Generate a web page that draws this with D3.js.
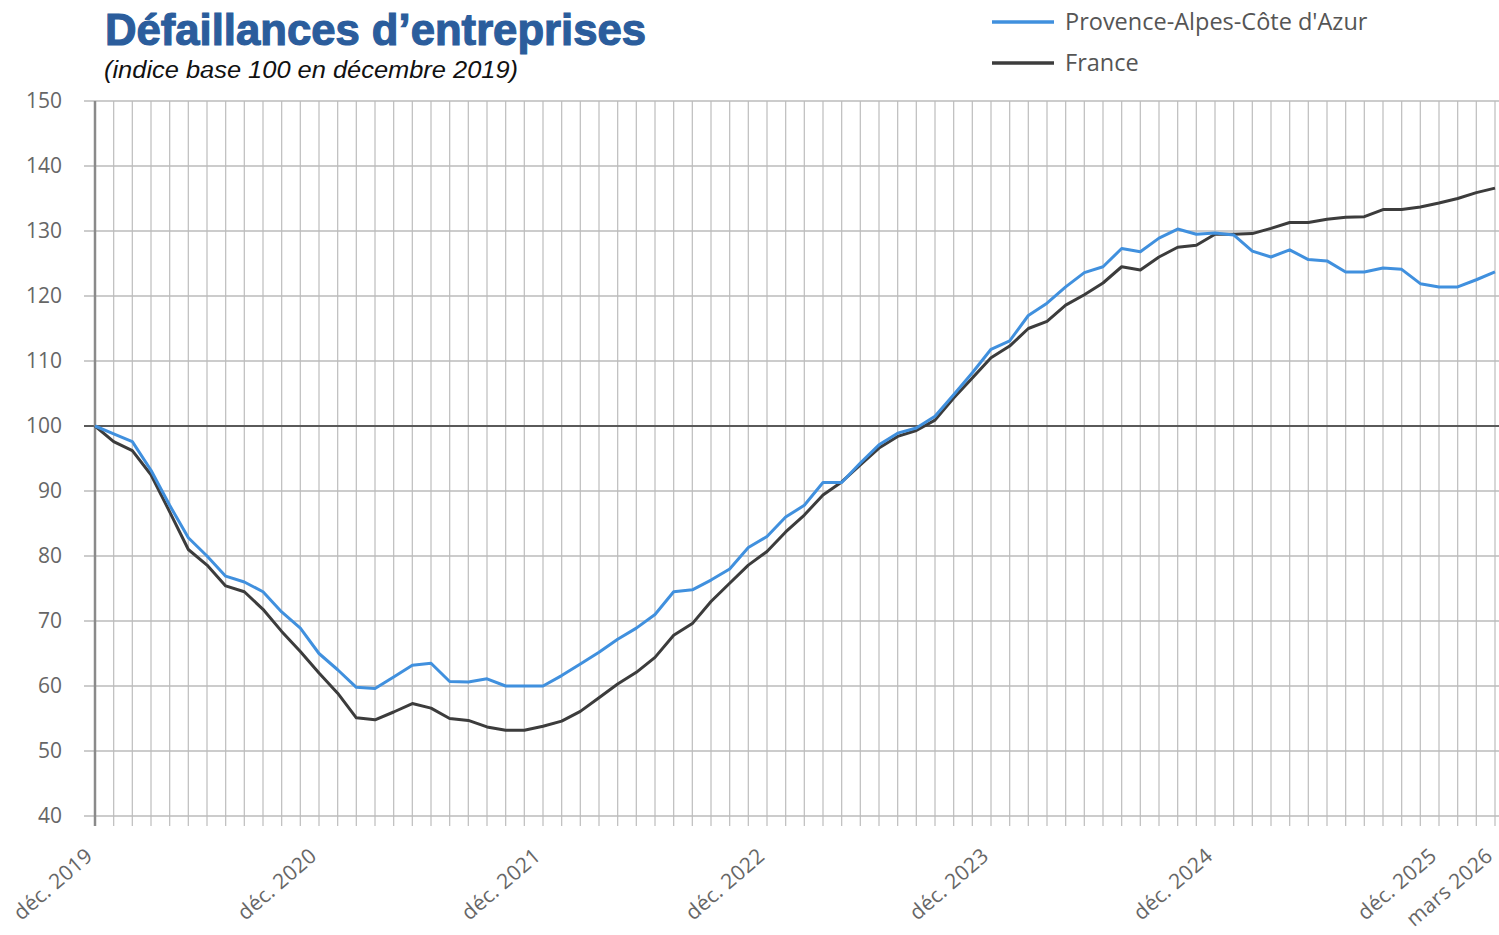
<!DOCTYPE html>
<html>
<head>
<meta charset="utf-8">
<script src="https://cdn.jsdelivr.net/npm/d3@7"></script>
<style>
  body { margin: 0; background: #fff; }
  svg { display: block; }
</style>
</head>
<body>
<svg id="chart"></svg>
<script>
var width = 1499, height = 935;

// months from déc. 2019 to mars 2026
var months = d3.timeMonths(new Date(2019, 11, 1), new Date(2026, 3, 1)).map(d3.timeFormat("%Y-%m"));

var paca = [100, 98.8, 97.6, 93.2, 87.8, 82.8, 80.0, 76.9, 76.0, 74.5, 71.4, 68.9,
  65.0, 62.5, 59.8, 59.6, 61.4, 63.2, 63.5, 60.7, 60.6, 61.1, 60.0, 60.0,
  60.0, 61.6, 63.4, 65.2, 67.2, 68.9, 71.0, 74.5, 74.8, 76.3, 78.0, 81.3,
  83.0, 86.0, 87.8, 91.3, 91.3, 94.3, 97.1, 98.9, 99.7, 101.5, 104.8, 108.2,
  111.8, 113.1, 117.0, 118.9, 121.4, 123.6, 124.5, 127.3, 126.8, 128.9, 130.3, 129.5,
  129.7, 129.4, 126.9, 126.0, 127.1, 125.6, 125.4, 123.7, 123.7, 124.3, 124.1, 121.9,
  121.4, 121.4, 122.5, 123.7];

var france = [100, 97.6, 96.2, 92.5, 86.8, 81.0, 78.6, 75.4, 74.5, 71.8, 68.4, 65.3,
  62.0, 58.9, 55.1, 54.8, 56.0, 57.3, 56.6, 55.0, 54.7, 53.7, 53.2, 53.2,
  53.8, 54.6, 56.1, 58.2, 60.3, 62.1, 64.4, 67.8, 69.6, 73.0, 75.8, 78.6,
  80.7, 83.7, 86.3, 89.4, 91.4, 94.0, 96.6, 98.4, 99.3, 100.9, 104.3, 107.4,
  110.5, 112.3, 115.0, 116.1, 118.6, 120.2, 122.0, 124.5, 124.0, 126.0, 127.5, 127.8,
  129.5, 129.5, 129.6, 130.4, 131.3, 131.3, 131.8, 132.1, 132.2, 133.3, 133.3, 133.7,
  134.3, 135.0, 135.9, 136.6];

var yTicks = [40, 50, 60, 70, 80, 90, 100, 110, 120, 130, 140, 150];
var xTickMonths = ["2019-12", "2020-12", "2021-12", "2022-12", "2023-12", "2024-12", "2025-12", "2026-03"];
var xTickLabels = ["déc. 2019", "déc. 2020", "déc. 2021", "déc. 2022", "déc. 2023", "déc. 2024", "déc. 2025", "mars 2026"];

var seriesNames = ["Provence-Alpes-Côte d'Azur", "France"];
var seriesColors = ["#4090de", "#3c3c3c"];

var svg = d3.select("#chart").attr("width", width).attr("height", height);

var x = d3.scalePoint().domain(months).range([95, 1495]);
var y = d3.scaleLinear().domain([40, 150]).range([816, 101]);

// vertical grid (one per month)
svg.append("g").selectAll("line")
  .data(months)
  .enter().append("line")
  .attr("x1", d => x(d)).attr("x2", d => x(d))
  .attr("y1", y(150)).attr("y2", y(40) + 10)
  .attr("stroke", "#c2c2c2")
  .attr("stroke-width", 1.3);

// horizontal grid
svg.append("g").selectAll("line")
  .data(yTicks)
  .enter().append("line")
  .attr("x1", 84).attr("x2", width)
  .attr("y1", d => y(d)).attr("y2", d => y(d))
  .attr("stroke", d => d == 100 ? "#5a5a5a" : "#bbbbbb")
  .attr("stroke-width", d => d == 100 ? 2 : 1.5);

// y axis line
svg.append("line")
  .attr("x1", x(months[0])).attr("x2", x(months[0]))
  .attr("y1", y(150)).attr("y2", y(40) + 10)
  .attr("stroke", "#8a8a8a")
  .attr("stroke-width", 2.5);

// y labels
svg.append("g").selectAll("text")
  .data(yTicks)
  .enter().append("text")
  .attr("x", 62)
  .attr("y", d => y(d))
  .attr("dy", "0.35em")
  .attr("text-anchor", "end")
  .attr("font-family", "Open Sans")
  .attr("font-size", 21)
  .attr("fill", "#666")
  .text(d => d);

// x labels
svg.append("g").selectAll("text")
  .data(xTickMonths)
  .enter().append("text")
  .attr("transform", d => "translate(" + (x(d) - 1) + "," + 858 + ") rotate(-41)")
  .attr("text-anchor", "end")
  .attr("font-family", "Open Sans")
  .attr("font-size", 21)
  .attr("letter-spacing", 0.3)
  .attr("fill", "#666")
  .text((d, i) => xTickLabels[i]);

// series lines
var line = d3.line()
  .x((d, i) => x(months[i]))
  .y(d => y(d));

svg.append("path")
  .datum(france)
  .attr("d", line)
  .attr("fill", "none")
  .attr("stroke", seriesColors[1])
  .attr("stroke-width", 3)
  .attr("stroke-linejoin", "round");

svg.append("path")
  .datum(paca)
  .attr("d", line)
  .attr("fill", "none")
  .attr("stroke", seriesColors[0])
  .attr("stroke-width", 3)
  .attr("stroke-linejoin", "round");

// title
svg.append("text")
  .attr("x", 105).attr("y", 45)
  .attr("font-family", "Liberation Sans")
  .attr("font-weight", "bold")
  .attr("font-size", 45)
  .attr("textLength", 541)
  .attr("lengthAdjust", "spacingAndGlyphs")
  .attr("fill", "#2b5d9c")
  .attr("stroke", "#2b5d9c")
  .attr("stroke-width", 1.2)
  .text("Défaillances d’entreprises");

svg.append("text")
  .attr("x", 104).attr("y", 78)
  .attr("font-family", "Liberation Sans")
  .attr("font-style", "italic")
  .attr("font-size", 23)
  .attr("textLength", 414)
  .attr("lengthAdjust", "spacingAndGlyphs")
  .attr("fill", "#111")
  .text("(indice base 100 en décembre 2019)");

// legend
var legend = svg.append("g").selectAll("g")
  .data(seriesNames)
  .enter().append("g")
  .attr("transform", (d, i) => "translate(992," + (22 + i * 41) + ")");

legend.append("line")
  .attr("x1", 0).attr("x2", 62)
  .attr("stroke", (d, i) => seriesColors[i])
  .attr("stroke-width", 3.5);

legend.append("text")
  .attr("x", 73)
  .attr("dy", "0.35em")
  .attr("font-family", "Open Sans")
  .attr("font-size", 23.5)
  .attr("fill", "#555")
  .text(d => d);
</script>
</body>
</html>
